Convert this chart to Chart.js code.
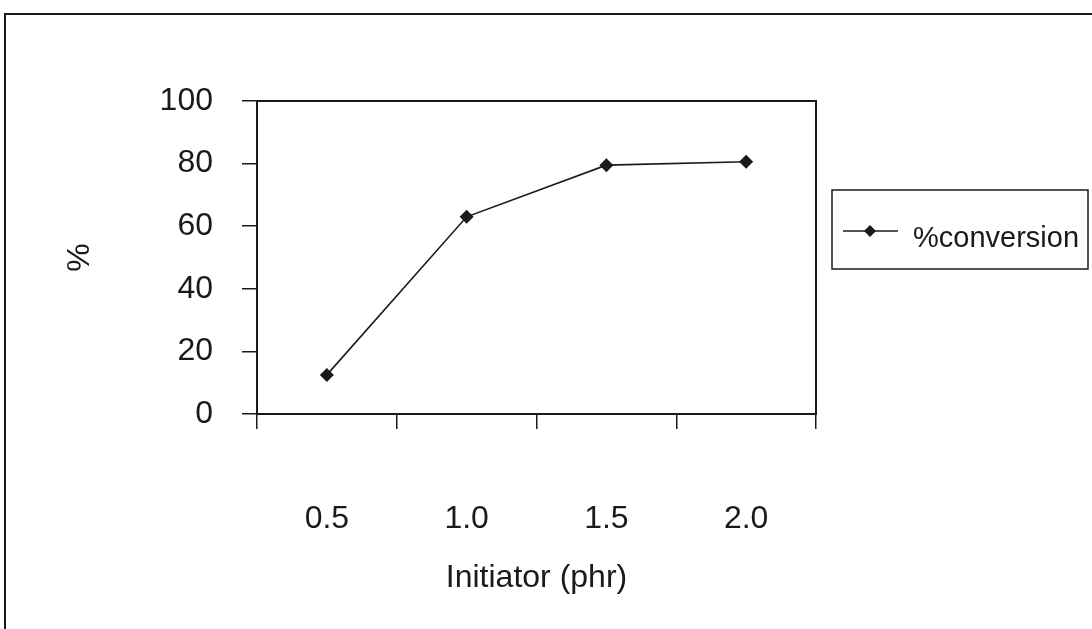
<!DOCTYPE html>
<html>
<head>
<meta charset="utf-8">
<script src="https://cdn.jsdelivr.net/npm/chart.js@4/dist/chart.umd.min.js"></script>
<style>
  body { margin: 0; background: #fff; }
  canvas { display: block; }
</style>
</head>
<body>
<canvas id="chart" width="1092" height="629"></canvas>
<script>
  // data
  const initiator = ['0.5', '1.0', '1.5', '2.0'];
  const conversion = [12.5, 63, 79.5, 80.6];
  const yTicks = [0, 20, 40, 60, 80, 100];
  const seriesName = '%conversion';

  const ink = '#1a1a1a';
  const fontFamily = '"Liberation Sans", Arial, sans-serif';

  // outer frame (top + left edge of the scanned page), plot box, legend
  const decor = {
    id: 'decor',
    beforeDraw: (chart) => {
      const { ctx } = chart;
      ctx.save();
      ctx.fillStyle = '#fff';
      ctx.fillRect(0, 0, chart.width, chart.height);
      ctx.strokeStyle = ink;
      ctx.lineWidth = 2;
      ctx.beginPath();
      ctx.moveTo(5, chart.height);
      ctx.lineTo(5, 14);
      ctx.lineTo(chart.width, 14);
      ctx.stroke();
      ctx.restore();
    },
    afterDraw: (chart) => {
      const { ctx, chartArea: { top, bottom, left, right } } = chart;
      ctx.save();
      ctx.strokeStyle = ink;
      ctx.lineWidth = 2;
      ctx.strokeRect(left, top, right - left, bottom - top);

      // legend box
      ctx.lineWidth = 1.5;
      ctx.strokeRect(832, 190, 256, 79);
      ctx.beginPath();
      ctx.moveTo(843, 231);
      ctx.lineTo(898, 231);
      ctx.stroke();
      ctx.fillStyle = ink;
      ctx.beginPath();
      ctx.moveTo(870, 225);
      ctx.lineTo(876, 231);
      ctx.lineTo(870, 237);
      ctx.lineTo(864, 231);
      ctx.closePath();
      ctx.fill();
      ctx.font = '29px ' + fontFamily;
      ctx.textBaseline = 'alphabetic';
      ctx.fillText(seriesName, 913, 247);
      ctx.restore();
    }
  };

  new Chart('chart', {
    type: 'line',
    data: {
      labels: initiator,
      datasets: [{
        label: seriesName,
        data: conversion,
        borderColor: ink,
        backgroundColor: ink,
        borderWidth: 1.6,
        pointStyle: 'rectRot',
        pointRadius: 7,
        pointBorderWidth: 0,
        tension: 0
      }]
    },
    options: {
      responsive: false,
      animation: false,
      layout: { padding: { top: 101, right: 276, left: 0, bottom: 0 } },
      plugins: {
        legend: { display: false },
        tooltip: { enabled: false }
      },
      scales: {
        x: {
          offset: true,
          afterFit: (scale) => { scale.height = 215; },
          grid: {
            offset: true,
            drawOnChartArea: false,
            tickLength: 15,
            color: ink,
            lineWidth: 1.5
          },
          border: { display: true, color: ink, width: 2 },
          ticks: {
            color: ink,
            padding: 71,
            maxRotation: 0,
            font: { family: fontFamily, size: 32 }
          },
          title: {
            display: true,
            text: 'Initiator (phr)',
            color: ink,
            padding: { top: 0, bottom: 32 },
            font: { family: fontFamily, size: 32 }
          }
        },
        y: {
          min: 0,
          max: 100,
          afterFit: (scale) => { scale.width = 257; },
          afterBuildTicks: (scale) => {
            scale.ticks = yTicks.map(v => ({ value: v }));
          },
          grid: {
            drawOnChartArea: false,
            tickLength: 15,
            color: ink,
            lineWidth: 1.5
          },
          border: { display: true, color: ink, width: 2 },
          ticks: {
            color: ink,
            padding: 29,
            font: { family: fontFamily, size: 32 }
          },
          title: {
            display: true,
            text: '%',
            color: ink,
            padding: { top: 61, bottom: 0 },
            font: { family: fontFamily, size: 32 }
          }
        }
      }
    },
    plugins: [decor]
  });
</script>
</body>
</html>
